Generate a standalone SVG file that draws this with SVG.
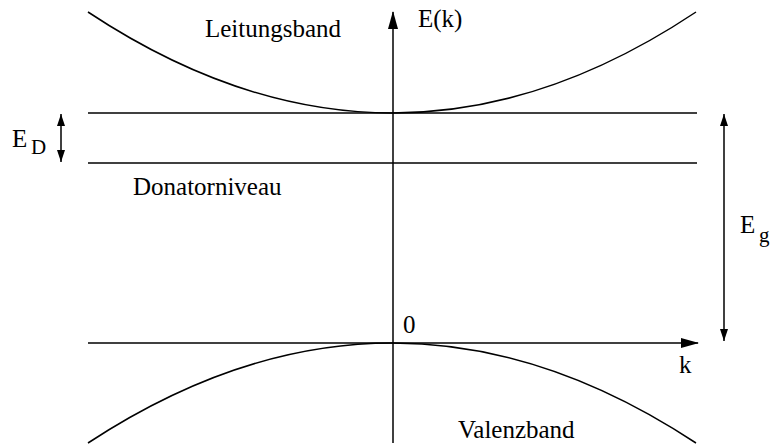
<svg xmlns="http://www.w3.org/2000/svg" width="777" height="448" viewBox="0 0 777 448">
<defs>
<style>
.ln{stroke:#000;stroke-width:1.5;fill:none}
.t{font-family:"Liberation Serif","Times New Roman",serif;font-size:25px;fill:#000}
.s{font-family:"Liberation Serif","Times New Roman",serif;font-size:21px;fill:#000}
</style>
<marker id="ah" viewBox="0 0 18 10" refX="17" refY="5" markerWidth="18" markerHeight="10" markerUnits="userSpaceOnUse" orient="auto"><path d="M0,0 L18,5 L0,10 z" fill="#000"/></marker>
<marker id="as" viewBox="0 0 12 8" refX="12" refY="4" markerWidth="12" markerHeight="8" markerUnits="userSpaceOnUse" orient="auto-start-reverse"><path d="M0,0 L12,4 L0,8 z" fill="#000"/></marker>
</defs>
<rect width="777" height="448" fill="#fff"/>
<g id="connectors">
<line class="ln" x1="393" y1="443" x2="393" y2="12" marker-end="url(#ah)"/>
<line class="ln" x1="88" y1="343" x2="698" y2="343" marker-end="url(#ah)"/>
<line class="ln" x1="88" y1="113" x2="697" y2="113"/>
<line class="ln" x1="88" y1="163" x2="697" y2="163"/>
<path class="ln" d="M88,12 Q393,214 696,12"/>
<path class="ln" d="M88,443 Q393,243 696,443"/>
<line class="ln" x1="61" y1="114" x2="61" y2="162" marker-start="url(#as)" marker-end="url(#as)"/>
<line class="ln" x1="724" y1="114" x2="724" y2="341" marker-start="url(#as)" marker-end="url(#as)"/>
</g>
<g id="leitungsband"><text class="t" x="205" y="37">Leitungsband</text></g>
<g id="ek"><text class="t" x="418" y="27">E(k)</text></g>
<g id="donator"><text class="t" x="133" y="195">Donatorniveau</text></g>
<g id="valenzband"><text class="t" x="458" y="438">Valenzband</text></g>
<g id="zero"><text class="t" x="403" y="333">0</text></g>
<g id="k"><text class="t" x="679" y="373">k</text></g>
<g id="ed"><text class="t" x="12" y="147">E</text><text class="s" x="31" y="154">D</text></g>
<g id="eg"><text class="t" x="740" y="233">E</text><text class="s" x="759" y="242">g</text></g>
</svg>
